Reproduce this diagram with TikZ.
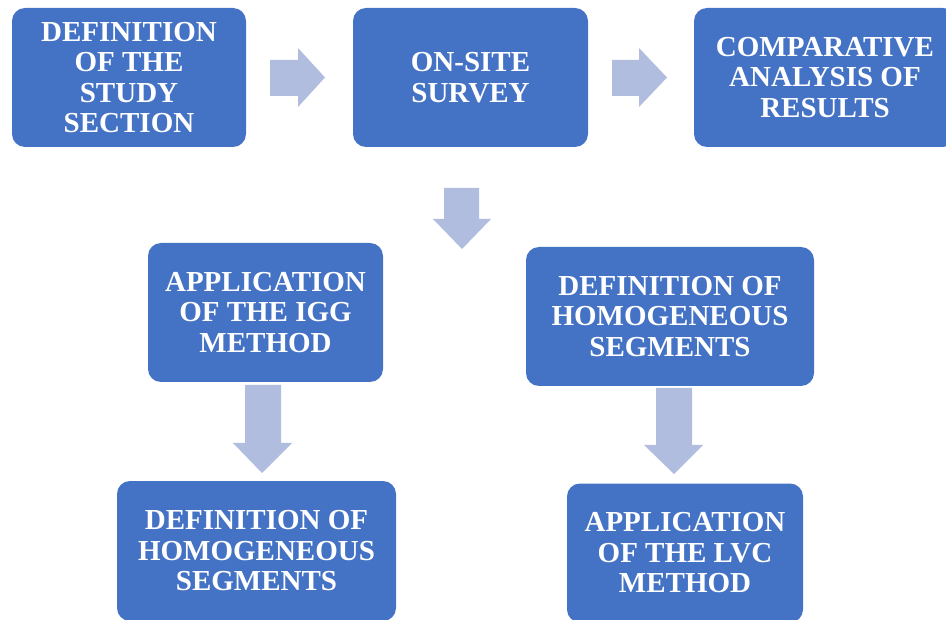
\documentclass[tikz,border=0pt]{standalone}
\usepackage{fontspec}
\setmainfont{Liberation Serif}
\definecolor{boxblue}{RGB}{68,114,196}
\definecolor{arrowblue}{RGB}{176,189,223}
\begin{document}
\begin{tikzpicture}[x=1pt,y=-1pt,
  box/.style={rectangle,rounded corners=13pt,fill=boxblue,text=white,
    align=center,inner sep=0pt,minimum height=139pt,
    font=\fontsize{29}{30.5}\selectfont\bfseries},
  blockarrow/.style={fill=arrowblue}]
\useasboundingbox (0,0) rectangle (946,620);
\clip (0,0) rectangle (946,620);
\node[box,minimum width=234pt] (b1) at (129,77.5) {DEFINITION\\OF THE\\STUDY\\SECTION};
\node[box,minimum width=235pt] (b2) at (470.5,77.5) {ON-SITE\\SURVEY};
\node[box,minimum width=262pt] (b3) at (825,77.5) {COMPARATIVE\\ANALYSIS OF\\RESULTS};
\node[box,minimum width=235pt] (b4) at (265.5,312.5) {APPLICATION\\OF THE IGG\\METHOD};
\node[box,minimum width=288pt] (b5) at (670,316.5) {DEFINITION OF\\HOMOGENEOUS\\SEGMENTS};
\node[box,minimum width=279pt,minimum height=140pt] (b6) at (256.5,551) {DEFINITION OF\\HOMOGENEOUS\\SEGMENTS};
\node[box,minimum width=236pt] (b7) at (685,553) {APPLICATION\\OF THE LVC\\METHOD};
% block arrows
\fill[blockarrow] (270,60) -- (298,60) -- (298,48) -- (325,77.5) -- (298,107) -- (298,96) -- (270,96) -- cycle;
\fill[blockarrow] (612,60) -- (639,60) -- (639,48) -- (667,77.5) -- (639,107) -- (639,96) -- (612,96) -- cycle;
\fill[blockarrow] (444,188) -- (479,188) -- (479,219) -- (491,219) -- (462,249) -- (433,219) -- (444,219) -- cycle;
\fill[blockarrow] (245,385) -- (281,385) -- (281,443) -- (292,443) -- (262,473) -- (233,443) -- (245,443) -- cycle;
\fill[blockarrow] (656,388) -- (692,388) -- (692,445) -- (703,445) -- (674,474) -- (644,445) -- (656,445) -- cycle;
\end{tikzpicture}
\end{document}
